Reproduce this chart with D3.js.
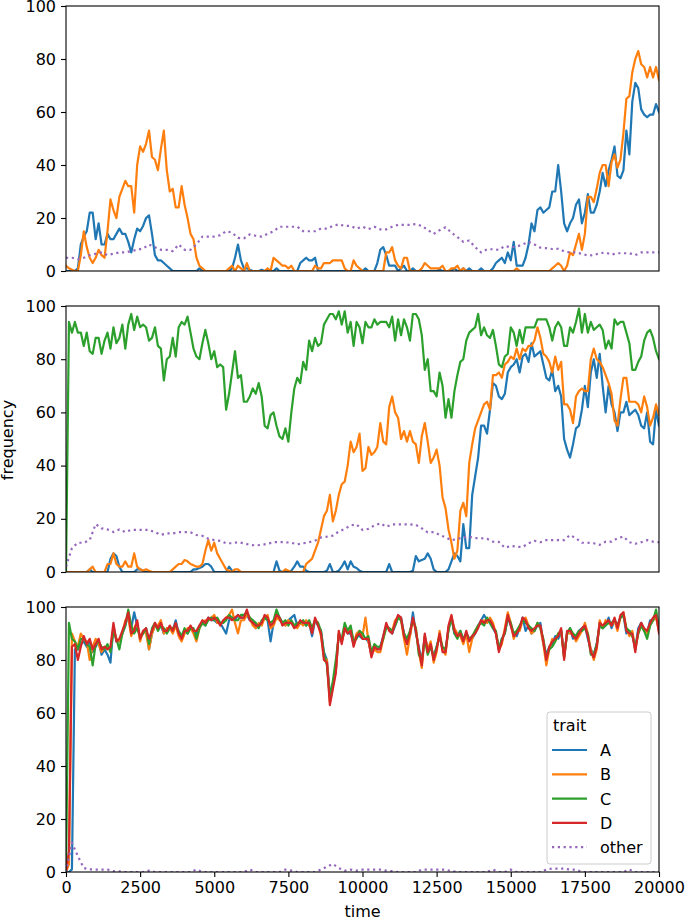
<!DOCTYPE html>
<html><head><meta charset="utf-8">
<script src="https://cdn.jsdelivr.net/npm/d3@7"></script>
<style>body{margin:0;background:#fff}svg{display:block}</style>
</head><body><svg id="chart" width="685" height="920"></svg>
<script>
// ---- time grids ----
const timeMain = d3.range(0, 20001, 100);   // A..D sampled every 100
const timeOther = d3.range(0, 20001, 200);  // "other" sampled every 200
const xTicks = [0, 2500, 5000, 7500, 10000, 12500, 15000, 17500, 20000];
const yTicks = [0, 20, 40, 60, 80, 100];
const traits = ["A", "B", "C", "D", "other"];
const traitColors = ["#1f77b4", "#ff7f0e", "#2ca02c", "#d62728", "#9467bd"];

// ---- panel 1 ----
const p1A = [0,0,0,0,1,10,13,15,22,22,
12,18,10,10,14,12,12,14,16,14,
14,11,7,12,16,15,17,20,21,14,
6,4,4,3,2,1,0,0,0,0,
0,0,0,0,0,1,0,0,0,0,
0,0,0,0,0,0,1,5,10,4,
1,1,0.5,0,0,0,0.5,0,0,0,
0,1,0,0,0,0,0,0,0,3,
4,5,4,4,5,0,0,0,0,0,
0,0,0,0,0,0,0,0,0,0,
0,1,0,0,0,3,8,9,6,2,
2,2,0,1,2,0,0,1,0,0,
0,0,0,0,0,0,0.5,0,0,0,
0,1,0,0,1,0,1,0,0,0,
1,0,0,0,1,3,4,5,3,7,
4,11,2,2,2,5,10,18,15,23,
24,22,23,24,30,30,40,30,18,15,
18,20,25,27,18,22,29,22,22,25,
30,37,32,38,42,47,36,35,38,53,
44,64,71,69,61,59,58,59,59,63,60];
const p1B = [2,1,0.5,0,0,6,15,9,5,3,
5,8,6,5,15,27,23,20,28,31,
34,32,32,22,40,47,45,48,53,43,
42,38,46,53,38,30,31,24,24,32,
25,20,14,12,5,2,1,0,0,0,
0,0,0,0,0,1,2,0,2,1,
0,3,0,0,0,0,0,0,1,0,
5,4,3,2,2,1,2,0,0,0,
0,0,0,0,2,1,1,3,3,3,
4,4,4,4,1,0,0,4,2,1,
0,0,0,0,0,0,0,0,7,7,
9,4,2,1,5,5,0,0,0,0,
1,3,2,1,1,1,1,2,0,0,
1,1,2,0,1,0,0,0,0,0,
0,0,0,0,0,0,0,0,0,0,
0,0,1,0,0,0,0,0,0,0,
0,0,0,0,1,2,3,2,0,2,
7,6,10,14,8,14,28,28,26,31,
37,40,40,32,41,44,39,42,52,65,
66,75,80,83,78,77,73,77,73,77,72];
const p1Other = [5,5,4.5,5,6,6.5,7,6,6.5,7,
7,7.5,8,8.5,10,9,8,8,7.5,10,
8,8,10,13,13,13,13.5,15,14.5,12.5,
12.3,13.8,13.3,13,14,15,16.7,16.7,16.7,16.7,
15,15,15,16,16,17,17.6,17,17,16,
16.7,15.8,16.7,15.7,15.7,16.7,17.4,17.4,17.4,17.7,
17,15.5,14,15.4,16.5,14.5,12.8,11,11.5,9,
7,8.2,8.2,8,9.4,9,9.2,10,11,10,
8.8,8.6,8.3,8.4,7.4,7,7,6.5,5.8,6,
6.7,7,6.2,6.7,6.7,6.7,6,7,7,7,7];

// ---- panel 2 ----
const p2A = [0,0,0,0,0,0,0,0,1,0,
0,0,0,0,0,5,7,6,2,0,
0,0,0,0,1,1,0.5,0,0,0,
0,0,0,0,0,0,0,0,0,0,
0,0,0,1,1,1.5,2,3,3,2,
0,0,0,0,0,2,0.5,0,0,0,
0,0,0,0,0,0,0,0,0,0,
0,4,0.5,0,0,0,0.5,2,4,2,
2,0.5,0,0,0,0,0,0,0.5,3,
0,0,0.5,2,4,1,4,2,1.5,0.5,
0,0,0,0,0,0,0,0,0,3,
0,0,0,0,0,0,0,0.5,6,4,
4.5,5,7,5,1,0,0,0,0,1,
4,7,6,4,18,9,9,29,36,43,
55,55,52,61,71,70,66,65,67,75,
77,78,80,75,81,82,79,86,81,82,
83,78,73,72,76,68,70,66,50,46,
43,48,54,55,61,70,62,75,80,73,
82,70,60,70,63,60,53,60,60,64,
59,60,61,59,55,54,60,49,48,61,55];
const p2B = [0,0,0,0,0,0,0,0,1,2,
0,0,0,0,3,3,7,3,2,2,
4,2,2,7,2,1,0.5,1,0.5,0,
0,0,0,0,0,0,1,2,3,3,
4.5,4,3,2.5,2,2,3,8,12,8,
11,7,5,3,1,0.5,0,1,1,0,
0,0,0,0,0,0,0,0,0,0,
0,0,0,0,1,0.5,0,0,0,0,
0,3,4,5,8,11,16,21,23,29,
19,23,29,33,34,40,49,45,47,52,
38,39,47,44,45,47,56,49,48,62,
66,60,58,50,53,49,53,49,48,41,
51,56,49,41,43,46,40,28,24,16,
11,5,8,23,26,21,41,48,54,57,
60,63,64,61,74,74,75,73,78,79,
81,80,84,80,84,83,85,85,87,92,
88,82,81,79,75,81,76,79,63,63,
61,56,66,68,69,68,68,80,84,80,
79,77,74,71,67,57,55,65,73,73,
64,64,64,63,60,66,62,55,58,63,59];
const p2C = [0,94,90,94,90,90,85,90,83,82,
88,88,82,87,90,84,92,86,88,93,
84,93,97,91,96,92,93,92,87,88,
92,85,84,72,80,81,88,81,92,94,
93,96,90,84,81,80,86,91,86,80,
83,77,78,77,61,67,75,83,73,74,
64,64,66,69,67,71,66,55,54,59,
60,55,51,50,54,49,60,69,73,71,
79,76,87,83,88,85,86,93,95,97,
97,95,98,93,98,90,94,85,94,92,
86,94,92,92,95,93,94,94,94,92,
96,87,95,89,95,92,87,97,97,95,
89,76,80,68,68,66,75,70,58,65,
58,68,74,79,80,87,90,91,92,97,
89,92,89,88,91,85,78,77,81,82,
92,90,85,91,86,92,92,92,92,95,
95,95,95,92,87,92,94,92,85,85,
92,90,94,99,90,97,90,94,91,92,
93,91,84,87,84,95,93,94,94,90,
86,76,76,79,81,87,90,91,88,83,80];
const p2Other = [2,9,11,11,12,18,16.4,16,15,16,
15,15.8,15.8,15.8,15.8,15,14,14.5,14.5,15,
15,14.9,13.9,13.6,12.5,12,11.7,10.8,10.8,11.2,
10.8,10.2,10,10.2,10.6,11.2,11.2,11.2,11,10.4,
10.8,11.2,11.8,13,13.3,13.7,15.2,16.2,17.5,17.9,
15.8,16.2,17.5,18.3,17,17.9,17.9,17.9,17.9,17.7,
16.4,14.9,15,14,13,11.9,12.5,12.9,13.3,12.7,
12.7,12.5,11.4,11.3,9.1,9.8,9.5,9.4,10.8,11.7,
11.2,12,12,12,12,13.9,12.7,11,11,10.8,
10.2,11.4,11.4,12.7,13.3,11.2,10.6,11.2,12,11.4,11.2];

// ---- panel 3 ----
const p3A = [0,0,1,84,84,86,87,85,87,83,
85,87,82,84,82,79,93,87,87,90,
93,97,92,98,93,88,90,92,84,90,
93,92,93,90,92,92,91,95,90,88,
91,90,92,91,90,93,94,93,96,95,
95,94,94,92,90,95,96,95,97,96,
96,97,95,95,92,93,94,96,95,87,
94,98,96,94,93,95,96,97,93,94,
94,93,94,89,95,93,91,83,80,67,
71,76,90,87,92,90,90,86,89,89,
88,88,87,82,85,84,85,89,93,92,
90,93,96,96,90,87,89,98,90,85,
79,89,84,86,81,85,89,84,83,92,
96,90,89,91,87,90,88,88,90,93,
95,97,95,94,92,90,84,88,90,96,
93,90,89,92,96,91,93,90,91,93,
94,86,82,85,86,89,88,91,82,90,
92,88,89,91,92,93,88,84,82,86,
94,92,93,96,92,95,93,96,97,90,
91,90,84,92,94,91,90,95,95,98,91];
const p3B = [0,3,90,87,85,90,88,87,80,85,
88,86,83,85,85,84,92,88,87,90,
95,96,89,92,94,87,91,90,84,90,
93,93,95,90,92,92,90,93,89,87,
90,92,92,90,87,92,94,95,95,96,
97,94,94,94,96,97,99,94,90,95,
95,97,96,93,92,94,93,96,97,92,
93,96,95,94,93,95,94,93,92,94,
93,95,93,91,95,94,89,81,80,64,
70,76,90,87,91,91,92,86,90,91,
89,96,87,82,84,83,83,88,93,92,
91,95,96,95,88,82,89,95,92,83,
77,89,84,87,79,83,91,84,82,92,
96,92,90,89,86,90,83,88,91,93,
94,95,94,96,94,90,84,86,92,98,
94,88,91,91,95,96,93,90,91,94,
92,86,78,84,88,87,90,91,81,90,
90,90,87,89,91,94,90,84,80,84,
95,92,95,94,93,95,91,96,98,92,
89,91,84,90,93,91,90,93,95,96,91];
const p3C = [0,94,88,87,84,88,88,86,85,78,
86,87,85,84,86,83,91,88,84,90,
93,99,93,90,92,89,90,92,86,92,
94,91,93,92,90,92,92,93,91,89,
92,90,92,92,88,92,94,93,95,96,
95,96,94,94,95,97,96,95,95,97,
97,98,96,95,94,92,95,96,95,94,
95,99,96,94,95,93,95,93,94,94,
95,93,95,92,95,94,91,82,78,66,
72,80,89,88,94,91,93,87,88,91,
90,88,89,83,86,85,85,88,92,92,
91,93,96,95,90,88,91,95,92,82,
80,88,82,85,81,85,89,85,84,91,
96,90,88,91,88,90,88,89,91,93,
94,93,96,94,92,91,84,88,90,96,
94,90,91,93,95,94,93,92,91,94,
92,88,81,84,85,87,90,91,81,90,
92,90,89,91,91,92,90,82,82,86,
93,92,93,94,94,95,93,96,97,92,
91,89,85,90,93,91,88,93,95,99,92];
const p3D = [0,8,85,86,80,85,89,86,88,84,
86,88,84,85,84,85,94,87,88,91,
94,98,90,91,95,88,91,92,88,91,
94,92,94,91,91,93,91,94,90,88,
91,91,93,91,91,93,95,94,96,95,
96,95,93,95,96,96,95,96,97,96,
96,99,95,94,93,93,94,97,96,93,
94,97,96,93,94,94,94,92,93,95,
94,94,94,90,96,93,90,80,79,63,
69,75,91,86,92,90,91,85,89,90,
88,88,88,81,85,84,84,89,94,91,
90,94,97,96,89,86,90,96,91,84,
78,90,83,86,80,84,90,83,83,93,
97,91,89,90,87,91,87,89,90,92,
95,94,95,95,93,90,83,87,91,97,
93,89,90,92,96,95,92,91,92,93,
93,87,80,85,87,88,89,92,80,91,
91,89,88,90,92,93,89,83,81,85,
94,93,94,95,93,96,92,97,98,91,
90,90,83,91,94,92,91,94,96,97,90];
const p3Other = [0,11,6,1.5,1,0.9,0.9,0.9,0.3,0.2,
0,0,0,0,0.5,0,0,0,0,0,
0,0,0.9,0,0,0,0,0,0,0,
0,0.9,0,0,0,0,0,0.9,0.5,0,
0,0,0,0.9,2,3,1.5,0.5,0.9,0.5,
0.9,0.9,0.9,0.9,0.5,0.3,0,0,0,0,
0.9,0.9,0.9,0.9,0.9,0.3,0,0,0,0,
0,0,0.9,0,0,0.9,0,0,0,0,
0,0.9,1.3,1.3,1.3,0.9,0.9,0,0,0,
0,0,0,0,0,0.9,0,0,0,0,0];

// ---- build ----
const panels = [
  {top: 6,   bottom: 271, series: {A: p1A, B: p1B, other: p1Other}},
  {top: 306, bottom: 572, series: {A: p2A, B: p2B, C: p2C, other: p2Other}},
  {top: 607, bottom: 872, series: {A: p3A, B: p3B, C: p3C, D: p3D, other: p3Other}}
];
const FONT = "'DejaVu Sans', sans-serif";
const svg = d3.select("#chart");
const x = d3.scaleLinear().domain([0, 20000]).range([66, 659]);
const color = d3.scaleOrdinal().domain(traits).range(traitColors);

panels.forEach((p, pi) => {
  const y = d3.scaleLinear().domain([0, 100]).range([p.bottom, p.top]);
  const g = svg.append("g");
  const clipId = "clip" + pi;
  svg.append("clipPath").attr("id", clipId).append("rect")
    .attr("x", 66).attr("y", p.top).attr("width", 593).attr("height", p.bottom - p.top);
  const lines = g.append("g").attr("clip-path", `url(#${clipId})`);
  traits.forEach(t => {
    const vals = p.series[t];
    if (!vals) return;
    const times = t === "other" ? timeOther : timeMain;
    const pts = vals.map((v, i) => [times[i], v]);
    const line = d3.line().x(d => x(d[0])).y(d => y(d[1]));
    const path = lines.append("path").datum(pts)
      .attr("d", line).attr("fill", "none")
      .attr("stroke", color(t)).attr("stroke-width", 2.2)
      .attr("stroke-linejoin", "round");
    if (t === "other") path.attr("stroke-dasharray", "2.2,3.6").attr("stroke-linecap", "butt");
    else path.attr("stroke-linecap", "square");
  });
  // y axis
  const ya = g.append("g").attr("transform", "translate(66,0)")
    .call(d3.axisLeft(y).tickValues(yTicks).tickSize(5).tickPadding(5).tickFormat(d3.format("d")));
  ya.select(".domain").remove();
  ya.selectAll("text").attr("font-family", FONT).attr("font-size", 16).attr("fill", "#000");
  ya.selectAll("line").attr("stroke", "#000").attr("stroke-width", 1.1);
  if (pi === 2) {
    const xa = g.append("g").attr("transform", `translate(0,${p.bottom})`)
      .call(d3.axisBottom(x).tickValues(xTicks).tickSize(5).tickPadding(5).tickFormat(d3.format("d")));
    xa.select(".domain").remove();
    xa.selectAll("text").attr("font-family", FONT).attr("font-size", 16).attr("fill", "#000");
    xa.selectAll("line").attr("stroke", "#000").attr("stroke-width", 1.1);
  }
  // frame
  g.append("rect").attr("x", 66).attr("y", p.top).attr("width", 593).attr("height", p.bottom - p.top)
    .attr("fill", "none").attr("stroke", "#000").attr("stroke-width", 1.1);
});

// axis titles
svg.append("text").attr("x", 362.5).attr("y", 917).attr("text-anchor", "middle")
  .attr("font-family", FONT).attr("font-size", 16).text("time");
svg.append("text").attr("transform", "translate(13,440) rotate(-90)").attr("text-anchor", "middle")
  .attr("font-family", FONT).attr("font-size", 16).text("frequency");

// legend
const lg = svg.append("g");
lg.append("rect").attr("x", 547).attr("y", 712).attr("width", 104).attr("height", 152)
  .attr("rx", 3).attr("fill", "#fff").attr("fill-opacity", 0.8).attr("stroke", "#ccc").attr("stroke-width", 1);
lg.append("text").attr("x", 553).attr("y", 731).attr("font-family", FONT).attr("font-size", 16).text("trait");
traits.forEach((t, i) => {
  const yy = 750 + i * 24.3;
  const l = lg.append("line").attr("x1", 552).attr("x2", 587).attr("y1", yy).attr("y2", yy)
    .attr("stroke", color(t)).attr("stroke-width", 2.2);
  if (t === "other") l.attr("stroke-dasharray", "2.2,3.6");
  lg.append("text").attr("x", 600).attr("y", yy + 6).attr("font-family", FONT).attr("font-size", 16).text(t);
});
</script></body></html>
